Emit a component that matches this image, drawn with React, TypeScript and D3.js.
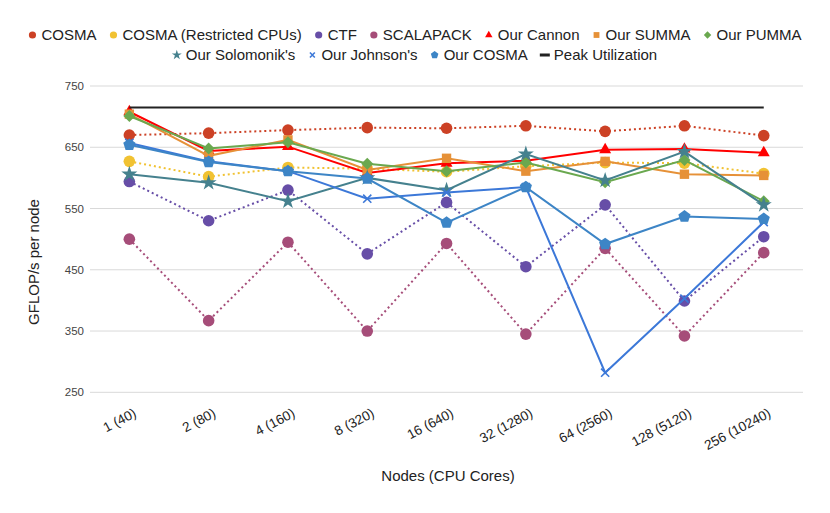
import { useEffect, useRef } from "react";
import * as d3 from "d3";

const categories = [
  "1 (40)",
  "2 (80)",
  "4 (160)",
  "8 (320)",
  "16 (640)",
  "32 (1280)",
  "64 (2560)",
  "128 (5120)",
  "256 (10240)",
];
const yTicks = [250, 350, 450, 550, 650, 750];

const cosma = [670, 673, 678, 682, 681, 685, 676, 685, 669];
const cosmaRestricted = [627, 602, 617, 615, 610, 619, 625, 624, 607];
const ctf = [594, 530, 580, 476, 560, 455, 556, 399, 504];
const scalapack = [500, 367, 495, 350, 493, 345, 485, 342, 478];
const ourCannon = [708, 644, 651, 608, 624, 628, 646, 647, 641];
const ourSumma = [704, 636, 662, 613, 632, 611, 627, 606, 604];
const ourPumma = [701, 648, 658, 623, 611, 625, 593, 629, 562];
const ourSolomonik = [606, 592, 562, 600, 580, 639, 596, 643, 556];
const ourJohnson = [657, 627, 611, 566, 576, 585, 282, 403, 528];
const ourCosma = [654, 626, 611, 599, 527, 585, 492, 537, 533];
const peak = [715, 715, 715, 715, 715, 715, 715, 715, 715];

type Marker = "circle" | "triangle" | "square" | "diamond" | "star" | "x" | "pentagon" | "dash";

interface Series {
  name: string;
  values: number[];
  color: string;
  dotted: boolean;
  marker: Marker;
}

const series: Series[] = [
  { name: "COSMA", values: cosma, color: "#cc4125", dotted: true, marker: "circle" },
  { name: "COSMA (Restricted CPUs)", values: cosmaRestricted, color: "#f1c232", dotted: true, marker: "circle" },
  { name: "CTF", values: ctf, color: "#674ea7", dotted: true, marker: "circle" },
  { name: "SCALAPACK", values: scalapack, color: "#a64d79", dotted: true, marker: "circle" },
  { name: "Our Cannon", values: ourCannon, color: "#ff0000", dotted: false, marker: "triangle" },
  { name: "Our SUMMA", values: ourSumma, color: "#e69138", dotted: false, marker: "square" },
  { name: "Our PUMMA", values: ourPumma, color: "#6aa84f", dotted: false, marker: "diamond" },
  { name: "Our Solomonik's", values: ourSolomonik, color: "#45818e", dotted: false, marker: "star" },
  { name: "Our Johnson's", values: ourJohnson, color: "#3c78d8", dotted: false, marker: "x" },
  { name: "Our COSMA", values: ourCosma, color: "#3d85c6", dotted: false, marker: "pentagon" },
  { name: "Peak Utilization", values: peak, color: "#222222", dotted: false, marker: "dash" },
];

const FONT = "'Liberation Sans', Arial, sans-serif";

function pentagonPath(r: number) {
  const pts = d3.range(5).map((i) => {
    const a = -Math.PI / 2 + (i * 2 * Math.PI) / 5;
    return [r * Math.cos(a), r * Math.sin(a)];
  });
  return "M" + pts.map((p) => p.join(",")).join("L") + "Z";
}

// draws one marker centred at (0,0) inside g; k scales it down for the legend
function drawMarker(g: d3.Selection<SVGGElement, unknown, null, undefined>, m: Marker, color: string, k: number) {
  if (m === "circle") {
    g.append("circle").attr("r", 5.8 * k).attr("fill", color);
  } else if (m === "triangle") {
    g.append("path").attr("d", d3.symbol(d3.symbolTriangle, 62 * k * k)()).attr("fill", color);
  } else if (m === "square") {
    g.append("path").attr("d", d3.symbol(d3.symbolSquare, 88 * k * k)()).attr("fill", color);
  } else if (m === "diamond") {
    g.append("path")
      .attr("d", d3.symbol(d3.symbolSquare, 72 * k * k)())
      .attr("transform", "rotate(45)")
      .attr("fill", color);
  } else if (m === "star") {
    g.append("path").attr("d", d3.symbol(d3.symbolStar, 80 * k * k)()).attr("fill", color);
  } else if (m === "x") {
    g.append("path")
      .attr("d", d3.symbol(d3.symbolX, 45 * k * k)())
      .attr("fill", "none")
      .attr("stroke", color)
      .attr("stroke-width", 1.6);
  } else if (m === "pentagon") {
    g.append("path").attr("d", pentagonPath(6.4 * k)).attr("fill", color);
  } else if (m === "dash") {
    g.append("rect").attr("x", -5).attr("y", -1.5).attr("width", 10).attr("height", 3).attr("fill", color);
  }
}

export default function App() {
  const svgRef = useRef<SVGSVGElement>(null);
  const width = 830;
  const height = 513;

  useEffect(() => {
    if (!svgRef.current) return;
    const svg = d3.select(svgRef.current);
    svg.selectAll("*").remove();

    const x = d3.scalePoint<string>().domain(categories).range([89.7, 803.4]).padding(0.5);
    const y = d3.scaleLinear().domain([250, 750]).range([392.3, 86]);

    svg.append("rect").attr("width", width).attr("height", height).attr("fill", "#fff");

    // gridlines + y tick labels
    const grid = svg.append("g");
    yTicks.forEach((t) => {
      grid
        .append("line")
        .attr("x1", 90)
        .attr("x2", 803)
        .attr("y1", y(t))
        .attr("y2", y(t))
        .attr("stroke", "#d9d9d9")
        .attr("stroke-width", 1);
      grid
        .append("text")
        .attr("x", 84)
        .attr("y", y(t))
        .attr("dy", "0.35em")
        .attr("text-anchor", "end")
        .attr("font-family", FONT)
        .attr("font-size", 11.5)
        .attr("fill", "#444")
        .text(t);
    });

    // x labels, rotated
    categories.forEach((c) => {
      svg
        .append("text")
        .attr("transform", `translate(${(x(c) ?? 0) + 8},${416}) rotate(-28)`)
        .attr("text-anchor", "end")
        .attr("font-family", FONT)
        .attr("font-size", 13.5)
        .attr("fill", "#222")
        .text(c);
    });

    // axis titles
    svg
      .append("text")
      .attr("x", 448)
      .attr("y", 481)
      .attr("text-anchor", "middle")
      .attr("font-family", FONT)
      .attr("font-size", 15)
      .attr("fill", "#222")
      .text("Nodes (CPU Cores)");
    svg
      .append("text")
      .attr("transform", "translate(39,262) rotate(-90)")
      .attr("text-anchor", "middle")
      .attr("font-family", FONT)
      .attr("font-size", 15)
      .attr("fill", "#222")
      .text("GFLOP/s per node");

    // lines and markers
    const line = d3
      .line<number>()
      .x((_, i) => x(categories[i]) ?? 0)
      .y((d) => y(d));

    series.forEach((s) => {
      const sg = svg.append("g");
      sg.append("path")
        .attr("d", line(s.values))
        .attr("fill", "none")
        .attr("stroke", s.color)
        .attr("stroke-width", 2)
        .attr("stroke-dasharray", s.dotted ? "2,3" : null);
      if (s.marker !== "dash") {
        s.values.forEach((v, i) => {
          const mg = sg.append("g").attr("transform", `translate(${x(categories[i])},${y(v)})`);
          drawMarker(mg, s.marker, s.color, 1);
        });
      }
    });

    // legend in two centred rows
    const rows = [series.slice(0, 7), series.slice(7)];
    const rowY = [35, 55];
    rows.forEach((row, ri) => {
      const lg = svg.append("g");
      let cursor = 0;
      row.forEach((s, i) => {
        const ig = lg.append("g").attr("transform", `translate(${cursor},${rowY[ri]})`);
        const mg = ig.append("g");
        drawMarker(mg, s.marker, s.color, 0.62);
        const t = ig
          .append("text")
          .attr("x", 9)
          .attr("dy", "0.35em")
          .attr("font-family", FONT)
          .attr("font-size", 15)
          .attr("fill", "#222")
          .text(s.name);
        const w = (t.node() as SVGTextElement).getComputedTextLength();
        cursor += 9 + w + (i < row.length - 1 ? 17 : 0);
      });
      const total = cursor + 4;
      lg.attr("transform", `translate(${415 - total / 2 + 4},0)`);
    });
  }, []);

  return (
    <div style={{ position: "absolute", left: 0, top: 0 }}>
      <svg ref={svgRef} width={width} height={height} style={{ display: "block" }} />
    </div>
  );
}
